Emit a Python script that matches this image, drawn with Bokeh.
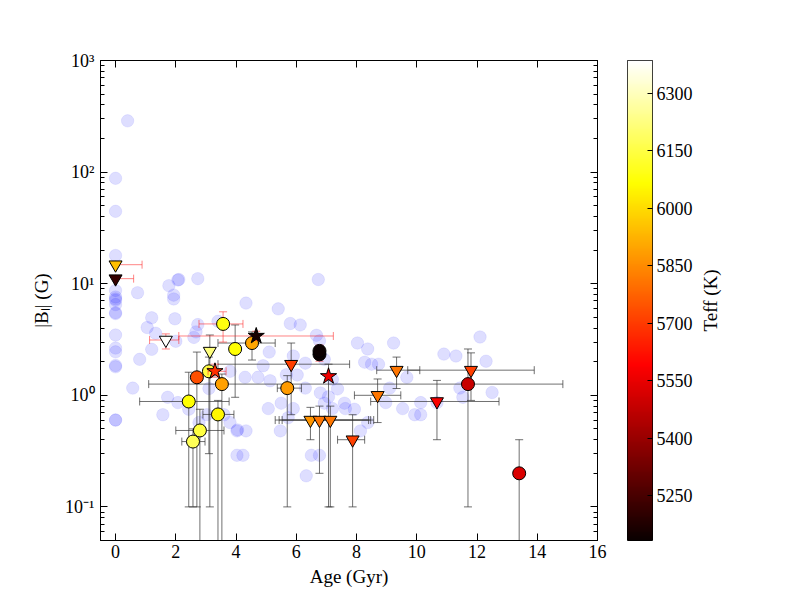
import math
import numpy as np
from bokeh.plotting import figure
from bokeh.models import (Range1d, LinearAxis, LogAxis, FixedTicker, LinearColorMapper,
                          CustomJSTickFormatter, ColumnDataSource)
from bokeh.core.properties import field
from bokeh.layouts import row
from bokeh.embed import file_html
from bokeh.resources import INLINE
from bokeh.transform import transform

# ---------------- background sample (age in Gyr, |B_l| in G) ----------------
bg_age = [0, 0, 0, 0, 0, 0, 0, 0, 0, 0, 0, 0, 0, 0, 0, 0, 0,
          0.4, 0.73, 0.57, 0.8, 1.05, 1.2, 1.33, 1.2, 1.77, 1.93,
          1.93, 2.07, 2.1, 1.97, 2.0, 2.73, 2.6, 2.67, 2.73, 3.4,
          4.33, 5.4, 5.8, 6.13, 6.73, 6.67, 6.77, 5.1, 4.9, 4.3,
          4.73, 5.13, 5.67, 6.03, 3.8, 5.9, 6.3, 6.93, 7.2, 1.73,
          2.07, 1.57, 2.43, 2.77, 3.03, 3.1, 3.6, 3.8, 4.03, 4.05,
          4.33, 4.03, 4.23, 5.07, 5.5, 5.47, 5.9, 5.73, 6.3, 6.5,
          6.77, 6.33, 6.8, 6.93, 7.07, 7.37, 7.2, 7.6, 7.63, 7.93,
          8.13, 8.37, 8.97, 9.1, 8.03, 8.37, 9.23, 8.27, 8.5, 8.73,
          9.67, 9.53, 9.93, 10.13, 10.13, 10.67, 10.9, 11.3, 12.1, 12.3,
          11.43, 11.53, 12.5]
bg_b = [88, 44.5, 17.9, 8.7, 7.6, 7.3, 7.1, 6.5, 5.4, 5.5, 3.47, 2.65, 2.45, 1.85, 1.8, 0.6, 0.6,
        288, 8.3, 1.16, 2.1, 4.05, 4.95, 3.6, 2.58, 9.6, 7.9,
        7.3, 10.8, 10.9, 4.85, 3.05, 11.1, 3.3, 3.7, 4.3, 4.6,
        6.7, 5.95, 4.4, 4.27, 10.9, 3.45, 3.08, 2.44, 1.84, 1.45,
        1.45, 1.35, 1.53, 1.52, 1.64, 2.25, 1.94, 2.1, 1.39, 0.96,
        0.86, 0.67, 0.75, 0.57, 0.67, 1.15, 0.67, 0.57, 0.48, 0.49,
        0.48, 0.29, 0.29, 0.76, 0.85, 0.48, 0.76, 0.63, 1.16, 0.29,
        0.29, 0.19, 1.05, 0.85, 0.97, 1.14, 0.76, 0.85, 0.76, 0.75,
        0.48, 0.57, 0.86, 1.16, 2.94, 2.6, 2.94, 1.98, 1.9, 1.9,
        1.45, 0.76, 0.67, 0.67, 0.86, 0.86, 2.34, 2.25, 3.33, 2.02,
        1.16, 0.96, 1.06]

# ---------------- highlighted stars ----------------
NAN = float("nan")
fg_age = [0.0, 0.0, 1.67, 3.57, 4.67, 3.3, 6.77, 6.77,
          3.97, 4.53, 3.13, 3.1, 2.7, 3.53, 5.7, 2.43, 3.4, 2.8, 2.57,
          5.83, 6.47, 6.77, 7.13, 7.87, 8.7, 9.33, 11.8, 10.67, 11.7, 13.4, 7.07]
fg_b = [14.8, 11.1, 3.13, 4.36, 3.4, 1.64, 2.33, 2.5,
        2.6, 2.94, 2.49, 1.64, 1.45, 1.26, 1.16, 0.88, 0.674, 0.484, 0.385,
        1.9, 0.6, 0.6, 0.6, 0.4, 1.0, 1.68, 1.68, 0.88, 1.26, 0.2, 1.48]
fg_teff = [5945, 5215, 6380, 6085, 5160, 5676, 5135, 5135,
           6070, 5896, 6220, 6150, 5735, 5890, 5880, 6070, 6050, 6150, 6170,
           5710, 5870, 5810, 5810, 5710, 5810, 5810, 5710, 5580, 5490, 5520, 5560]
fg_marker = ["inverted_triangle", "inverted_triangle", "inverted_triangle", "circle", "star", "star", "circle", "circle",
             "circle", "circle", "inverted_triangle", "circle", "circle", "circle", "circle", "circle", "circle", "circle", "circle",
             "inverted_triangle", "inverted_triangle", "inverted_triangle", "inverted_triangle", "inverted_triangle",
             "inverted_triangle", "inverted_triangle", "inverted_triangle", "inverted_triangle", "circle", "circle", "star"]
fg_group = ["red"] * 8 + ["gray"] * 23
fg_age_lo = [0.0, 0.0, 1.13, 2.77, 2.1, 3.07, NAN, NAN,
             NAN, 3.4, NAN, NAN, NAN, NAN, 5.37, 0.8, 2.9, 2.0, 2.2,
             3.4, 5.3, 5.43, 5.53, 7.37, 7.93, 8.67, 9.7, 8.47, 1.1, NAN, NAN]
fg_age_hi = [0.88, 0.6, 2.1, 4.23, 7.23, 3.67, NAN, NAN,
             NAN, 5.3, NAN, NAN, NAN, NAN, 6.17, 3.77, 3.93, 3.6, 2.97,
             7.77, 8.4, 8.47, 8.57, 8.27, 9.47, 10.1, 13.9, 12.73, 14.85, NAN, NAN]
fg_b_lo = [NAN, NAN, 2.6, 3.0, 3.1, 1.45, 2.02, NAN,
           0.96, 2.07, 0.1, 0.3, 0.1, 0.04, 0.1, 0.1, 0.04, 0.04, 0.1,
           0.67, 0.4, 0.2, 0.1, 0.1, 0.57, 1.15, 0.9, 0.4, 0.1, 0.04, 0.1]
fg_b_hi = [NAN, NAN, 3.55, 5.6, 3.75, 1.9, 2.82, NAN,
           4.27, 3.7, 3.47, 2.2, 2.44, 1.55, 1.5, 1.61, 0.9, 0.75, 0.5,
           2.94, 0.78, 0.8, 0.8, 0.67, 1.4, 2.2, 2.4, 1.36, 2.6, 0.4, 1.9]

x_ticks = [0, 2, 4, 6, 8, 10, 12, 14, 16]
y_ticks = [0.1, 1, 10, 100, 1000]
y_tick_labels = ["10\u207b\u00b9", "10\u2070", "10\u00b9", "10\u00b2", "10\u00b3"]
cb_ticks = [5250, 5400, 5550, 5700, 5850, 6000, 6150, 6300]

TEFF_LO, TEFF_HI = 5133, 6385
FONT = "Liberation Serif"


def hot(n=256):
    cols = []
    for i in range(n):
        t = i / (n - 1)
        r = min(1.0, 0.0416 + (1 - 0.0416) * t / 0.365079)
        g = 0.0 if t < 0.365079 else min(1.0, (t - 0.365079) / (0.746032 - 0.365079))
        b = 0.0 if t < 0.746032 else (t - 0.746032) / (1 - 0.746032)
        cols.append("#%02x%02x%02x" % (round(r * 255), round(g * 255), round(b * 255)))
    return cols


mapper = LinearColorMapper(palette=hot(), low=TEFF_LO, high=TEFF_HI)

p = figure(frame_width=497, frame_height=480, x_range=Range1d(-0.5, 16), y_range=Range1d(0.05, 1000),
           y_axis_type="log", output_backend="svg", toolbar_location=None,
           min_border_left=100, min_border_top=60, min_border_bottom=52, min_border_right=30,
           background_fill_color="white", border_fill_color="white")
p.xgrid.visible = False
p.ygrid.visible = False
p.outline_line_color = "black"
p.outline_line_alpha = 1.0

minor = [k * 10.0 ** d for d in range(-2, 3) for k in range(2, 10) if 0.05 <= k * 10.0 ** d <= 1000]
xt = FixedTicker(ticks=x_ticks)
yt = FixedTicker(ticks=y_ticks, minor_ticks=minor)


def style(ax):
    ax.axis_line_color = "black"
    ax.major_tick_in = 7
    ax.major_tick_out = 0
    ax.minor_tick_in = 4
    ax.minor_tick_out = 0
    ax.major_tick_line_color = "black"
    ax.minor_tick_line_color = "black"
    ax.major_label_text_font = FONT
    ax.major_label_text_font_size = "18px"
    ax.major_label_text_color = "black"
    ax.axis_label_text_font = FONT
    ax.axis_label_text_font_size = "19px"
    ax.axis_label_text_font_style = "normal"
    ax.axis_label_text_color = "black"


p.xaxis.ticker = xt
p.yaxis.ticker = yt
p.yaxis.major_label_overrides = {t: s for t, s in zip(y_ticks, y_tick_labels)}
p.xaxis.axis_label = "Age (Gyr)"
p.yaxis.axis_label = "|B\u2097| (G)"
p.xaxis.axis_label_standoff = 5
p.yaxis.axis_label_standoff = 10
p.xaxis.major_label_standoff = 4
p.yaxis.major_label_standoff = 6
style(p.xaxis[0])
style(p.yaxis[0])

blank = CustomJSTickFormatter(code="return ''")
top = LinearAxis(ticker=xt, formatter=blank)
right = LogAxis(ticker=yt, formatter=blank)
style(top)
style(right)
p.add_layout(top, "above")
p.add_layout(right, "right")

# background sample
p.scatter(bg_age, bg_b, marker="circle", size=12.5, fill_color="blue", fill_alpha=0.13,
          line_color="blue", line_alpha=0.07)

ERR_STYLE = {"gray": dict(color="#333333", alpha=0.7), "red": dict(color="#ff2020", alpha=0.55)}
SIZES = {"circle": 13, "inverted_triangle": 13, "star": 17}

for grp in ["gray", "red"]:
    st = ERR_STYLE[grp]
    idx = [i for i, g in enumerate(fg_group) if g == grp]
    vx = [i for i in idx if not math.isnan(fg_b_lo[i])]
    hx = [i for i in idx if not math.isnan(fg_age_lo[i])]
    # vertical error bars
    p.segment(x0=[fg_age[i] for i in vx], y0=[fg_b_lo[i] for i in vx],
              x1=[fg_age[i] for i in vx], y1=[fg_b_hi[i] for i in vx],
              line_color=st["color"], line_alpha=st["alpha"], line_width=1)
    p.scatter([fg_age[i] for i in vx] * 2, [fg_b_lo[i] for i in vx] + [fg_b_hi[i] for i in vx],
              marker="dash", size=8, line_color=st["color"], line_alpha=st["alpha"], line_width=1)
    # horizontal error bars
    p.segment(x0=[fg_age_lo[i] for i in hx], y0=[fg_b[i] for i in hx],
              x1=[fg_age_hi[i] for i in hx], y1=[fg_b[i] for i in hx],
              line_color=st["color"], line_alpha=st["alpha"], line_width=1)
    p.scatter([fg_age_lo[i] for i in hx] + [fg_age_hi[i] for i in hx], [fg_b[i] for i in hx] * 2,
              marker="dash", size=8, angle=math.pi / 2, line_color=st["color"], line_alpha=st["alpha"],
              line_width=1)
    src = ColumnDataSource(dict(
        age=[fg_age[i] for i in idx], b=[fg_b[i] for i in idx], teff=[fg_teff[i] for i in idx],
        marker=[fg_marker[i] for i in idx], size=[SIZES[fg_marker[i]] for i in idx]))
    p.scatter("age", "b", source=src, marker=field("marker"), size="size",
              fill_color=transform("teff", mapper), line_color="black", line_width=1)

# ---------------- colour bar ----------------
cb = figure(frame_width=25, frame_height=480, x_range=Range1d(0, 1), y_range=Range1d(TEFF_LO, TEFF_HI),
            x_axis_location=None, y_axis_location="right", output_backend="svg", toolbar_location=None,
            min_border_left=0, min_border_top=60, min_border_bottom=52, min_border_right=44,
            background_fill_color="white", border_fill_color="white")
cb.xgrid.visible = False
cb.ygrid.visible = False
cb.outline_line_color = "black"
cb.outline_line_alpha = 1.0
grad = np.linspace(TEFF_LO, TEFF_HI, 256).reshape(256, 1)
cb.image(image=[grad], x=0, y=TEFF_LO, dw=1, dh=TEFF_HI - TEFF_LO, color_mapper=mapper)
cax = cb.yaxis[0]
cax.ticker = FixedTicker(ticks=cb_ticks)
style(cax)
cax.major_tick_in = 5
cax.axis_line_color = None
cax.major_label_standoff = 4

# colour-bar title, drawn as the (bottom-to-top) label of a thin neighbouring panel
lab = figure(frame_width=1, frame_height=480, x_range=Range1d(0, 1), y_range=Range1d(0, 1),
             x_axis_location=None, y_axis_location="left", output_backend="svg", toolbar_location=None,
             min_border_left=0, min_border_right=0, min_border_top=60, min_border_bottom=52,
             background_fill_color="white", border_fill_color="white", outline_line_color=None)
lab.xgrid.visible = False
lab.ygrid.visible = False
lax = lab.yaxis[0]
lax.ticker = FixedTicker(ticks=[])
lax.formatter = blank
lax.axis_line_color = None
lax.major_tick_line_color = None
lax.minor_tick_line_color = None
lax.major_label_standoff = 0
lax.axis_label = "Teff (K)"
lax.axis_label_standoff = 2
lax.axis_label_text_font = FONT
lax.axis_label_text_font_size = "19px"
lax.axis_label_text_font_style = "normal"
lax.axis_label_text_color = "black"

layout = row(p, cb, lab)
with open("out.html", "w") as f:
    f.write(file_html(layout, INLINE))
